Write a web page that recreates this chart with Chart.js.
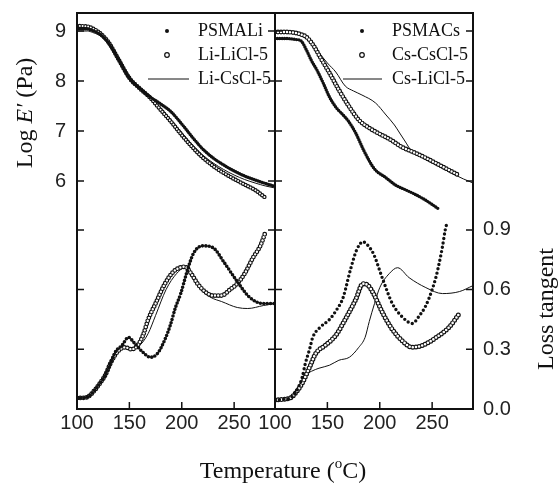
<!DOCTYPE html>
<html>
<head>
<meta charset="utf-8">
<script src="https://cdn.jsdelivr.net/npm/chart.js@4.4.1/dist/chart.umd.min.js"></script>
<style>
  body { margin: 0; background: #fff; }
  #wrap { position: relative; width: 558px; height: 487px; }
  #wrap canvas { position: absolute; left: 0; top: 0; }
</style>
</head>
<body>
<div id="wrap">
  <canvas id="chartLi" width="558" height="487"></canvas>
  <canvas id="chartCs" width="558" height="487"></canvas>
</div>
<script>
// axis ticks
const tempTicks = [100, 150, 200, 250];
const logTicks = [6, 7, 8, 9];
const tanTicks = [0.0, 0.3, 0.6, 0.9];

// ---- Li panel: log E' ----
const tPsmaliE = [100, 110, 115, 120, 125, 130, 140, 150, 160, 170, 180, 190, 200, 210, 220, 230, 240, 250, 260, 270, 280, 288];
const psmaliE  = [9.05, 9.04, 9.01, 8.96, 8.88, 8.76, 8.42, 8.06, 7.85, 7.68, 7.54, 7.38, 7.14, 6.88, 6.64, 6.46, 6.32, 6.2, 6.1, 6.02, 5.95, 5.9];
const tLiLiE   = [100, 110, 115, 120, 125, 130, 140, 150, 160, 170, 180, 190, 200, 210, 220, 230, 240, 250, 260, 270, 279];
const liLiE    = [9.1, 9.09, 9.05, 8.99, 8.9, 8.78, 8.42, 8.06, 7.85, 7.66, 7.42, 7.18, 6.92, 6.68, 6.47, 6.3, 6.16, 6.04, 5.93, 5.82, 5.68];
const tLiCsE   = [100, 110, 115, 120, 125, 130, 140, 150, 160, 170, 180, 190, 200, 210, 220, 230, 240, 250, 260, 270, 280, 289];
const liCsE    = [9.0, 9.0, 8.97, 8.93, 8.86, 8.74, 8.4, 8.05, 7.84, 7.66, 7.46, 7.22, 6.97, 6.73, 6.52, 6.36, 6.23, 6.12, 6.03, 5.96, 5.9, 5.86];

// ---- Li panel: loss tangent ----
const tPsmaliT = [100, 105, 110, 117, 122, 127, 132, 137, 143, 149, 155, 162, 170, 177, 184, 189, 194, 199, 205, 211, 220, 230, 240, 253, 265, 278, 289];
const psmaliT  = [0.055, 0.056, 0.06, 0.095, 0.13, 0.17, 0.23, 0.29, 0.32, 0.36, 0.33, 0.29, 0.26, 0.28, 0.35, 0.42, 0.51, 0.58, 0.69, 0.78, 0.82, 0.81, 0.74, 0.64, 0.56, 0.53, 0.53];
const tLiLiT   = [100, 105, 110, 117, 122, 127, 132, 139, 146, 152, 158, 163, 168, 175, 184, 192, 198, 203, 209, 215, 222, 230, 238, 246, 253, 260, 268, 275, 280];
const liLiT    = [0.055, 0.056, 0.06, 0.095, 0.13, 0.17, 0.23, 0.29, 0.31, 0.3, 0.32, 0.37, 0.45, 0.53, 0.63, 0.69, 0.71, 0.715, 0.68, 0.63, 0.59, 0.57, 0.57, 0.6, 0.63, 0.68, 0.76, 0.82, 0.89];
const tLiCsT   = [100, 110, 117, 122, 127, 132, 139, 146, 153, 160, 168, 175, 185, 195, 203, 210, 218, 228, 238, 253, 263, 278, 289];
const liCsT    = [0.055, 0.06, 0.095, 0.13, 0.17, 0.23, 0.29, 0.31, 0.3, 0.32, 0.38, 0.47, 0.6, 0.68, 0.71, 0.66, 0.6, 0.56, 0.54, 0.51, 0.505, 0.52, 0.53];

// ---- Cs panel: log E' ----
const tPsmacsE = [100, 110, 120, 125, 130, 135, 140, 146, 152, 158, 165, 170, 177, 185, 195, 205, 215, 225, 235, 245, 257];
const psmacsE  = [8.85, 8.85, 8.83, 8.8, 8.62, 8.4, 8.22, 7.96, 7.68, 7.48, 7.32, 7.2, 6.96, 6.6, 6.24, 6.08, 5.92, 5.82, 5.72, 5.6, 5.43];
const tCsCsE   = [100, 110, 120, 125, 130, 137, 143, 152, 161, 171, 180, 190, 200, 210, 221, 234, 245, 255, 265, 275];
const csCsE    = [8.98, 8.98, 8.96, 8.93, 8.88, 8.7, 8.48, 8.16, 7.82, 7.48, 7.22, 7.06, 6.94, 6.83, 6.68, 6.56, 6.45, 6.34, 6.23, 6.12];
const tCsLiE   = [100, 110, 120, 125, 130, 140, 150, 158, 167, 175, 183, 196, 206, 214, 219, 224, 231, 240, 250, 260, 270, 280, 289];
const csLiE    = [9.0, 9.0, 8.98, 8.95, 8.9, 8.62, 8.36, 8.18, 7.9, 7.8, 7.72, 7.56, 7.32, 7.12, 6.96, 6.8, 6.58, 6.47, 6.36, 6.25, 6.14, 6.04, 5.96];

// ---- Cs panel: loss tangent ----
const tPsmacsT = [100, 110, 116, 121, 126, 129, 133, 136, 143, 152, 159, 165, 172, 178, 184, 189, 194, 203, 212, 222, 231, 238, 244, 250, 254, 257, 260, 262.5, 264.5];
const psmacsT  = [0.045, 0.05, 0.06, 0.095, 0.16, 0.23, 0.3, 0.36, 0.41, 0.45, 0.5, 0.56, 0.7, 0.8, 0.84, 0.82, 0.78, 0.65, 0.53, 0.46, 0.43, 0.47, 0.52, 0.6, 0.67, 0.74, 0.82, 0.9, 0.94];
const tCsCsT   = [100, 110, 116, 121, 126, 133, 139, 148, 158, 167, 177, 184, 189, 194, 203, 212, 222, 231, 241, 254, 266, 276];
const csCsT    = [0.045, 0.05, 0.06, 0.09, 0.13, 0.21, 0.28, 0.32, 0.37, 0.45, 0.55, 0.63, 0.62, 0.58, 0.48, 0.4, 0.34, 0.31, 0.32, 0.36, 0.41, 0.48];
const tCsLiT   = [100, 110, 116, 121, 125, 129, 135, 142, 152, 161, 171, 180, 186, 190, 195, 200, 209, 217, 228, 244, 260, 276, 289];
const csLiT    = [0.045, 0.05, 0.06, 0.09, 0.13, 0.17, 0.19, 0.205, 0.22, 0.245, 0.26, 0.31, 0.36, 0.44, 0.53, 0.61, 0.68, 0.71, 0.66, 0.61, 0.58, 0.59, 0.62];

const INK = '#111';
const SANS = 'Liberation Sans, Arial, sans-serif';
const SERIF = 'Liberation Serif, Times New Roman, serif';

const pts = (t, v) => t.map((x, i) => ({ x: x, y: v[i] }));

// filled dots: zero-length round dashes along the curve
function dots(t, v, axis, w, gap) {
  return { data: pts(t, v), yAxisID: axis, borderColor: INK, borderWidth: w,
    borderDash: [0, gap], borderCapStyle: 'round', pointRadius: 0,
    cubicInterpolationMode: 'monotone', fill: false, order: 1 };
}
// open circles: black dots, then white dots drawn on top
function rings(t, v, axis, w, gap) {
  const outer = dots(t, v, axis, w, gap);
  outer.order = 3;
  const inner = dots(t, v, axis, w - 2.4, gap);
  inner.borderColor = '#fff';
  inner.order = 2;
  return [outer, inner];
}
function thin(t, v, axis) {
  return { data: pts(t, v), yAxisID: axis, borderColor: INK, borderWidth: 1,
    pointRadius: 0, cubicInterpolationMode: 'monotone', fill: false, order: 4 };
}

function setTicks(vals) {
  return s => { s.ticks = vals.map(v => ({ value: v })); };
}
function fixSize(prop, size) {
  return s => {
    s[prop] = size;
    s.paddingTop = 0; s.paddingBottom = 0; s.paddingLeft = 0; s.paddingRight = 0;
  };
}

function makeScales(showLog, showTan) {
  return {
    x: {
      type: 'linear', min: 100, max: 289,
      afterBuildTicks: setTicks(tempTicks),
      afterFit: fixSize('height', 78),
      grid: { display: false, drawTicks: false }, border: { display: false },
      ticks: { font: { family: SANS, size: 20 }, color: '#222', padding: 2, maxRotation: 0, autoSkip: false }
    },
    y: {
      type: 'linear', position: 'left', min: 1.44, max: 9.36, display: showLog,
      afterBuildTicks: setTicks(logTicks),
      afterFit: fixSize('width', showLog ? 77 : 0),
      grid: { display: false, drawTicks: false }, border: { display: false },
      ticks: { font: { family: SANS, size: 20 }, color: '#222', padding: 11, autoSkip: false }
    },
    y2: {
      type: 'linear', position: 'right', min: 0, max: 1.99, display: showTan,
      afterBuildTicks: setTicks(tanTicks),
      afterFit: fixSize('width', showTan ? 85 : 0),
      grid: { display: false, drawTicks: false }, border: { display: false },
      ticks: { font: { family: SANS, size: 20 }, color: '#222', padding: 10, autoSkip: false,
        callback: v => v.toFixed(1) }
    }
  };
}

// write a run of [text, font, dy] pieces starting at x
function runText(ctx, parts, x, y) {
  parts.forEach(p => {
    ctx.font = p[1];
    ctx.fillText(p[0], x, y + (p[2] || 0));
    x += ctx.measureText(p[0]).width;
  });
}
function runWidth(ctx, parts) {
  let w = 0;
  parts.forEach(p => { ctx.font = p[1]; w += ctx.measureText(p[0]).width; });
  return w;
}

// frame, inward ticks, legend and axis titles
function decor(legend, legendPos, titles) {
  return {
    id: 'decor',
    afterDraw(chart) {
      const ctx = chart.ctx, a = chart.chartArea;
      const sx = chart.scales.x, sy = chart.scales.y, st = chart.scales.y2;
      ctx.save();
      ctx.strokeStyle = INK;
      ctx.lineWidth = 1.5;
      const tl = 7;
      const ys = logTicks.map(v => sy.getPixelForValue(v))
        .concat(tanTicks.filter(v => v > 0).map(v => st.getPixelForValue(v)));
      ctx.beginPath();
      ys.forEach(py => {
        ctx.moveTo(a.left, py); ctx.lineTo(a.left + tl, py);
        ctx.moveTo(a.right, py); ctx.lineTo(a.right - tl, py);
      });
      tempTicks.slice(1).forEach(v => {
        const px = sx.getPixelForValue(v);
        ctx.moveTo(px, a.bottom); ctx.lineTo(px, a.bottom - tl);
      });
      ctx.stroke();
      ctx.lineWidth = 2;
      ctx.strokeRect(a.left, a.top, a.right - a.left, a.bottom - a.top);

      // legend
      ctx.fillStyle = INK;
      ctx.textBaseline = 'middle';
      ctx.textAlign = 'left';
      legend.forEach((item, i) => {
        const y = legendPos.rows[i];
        if (item[1] === 'dot') {
          ctx.beginPath(); ctx.arc(legendPos.mark, y, 2, 0, Math.PI * 2); ctx.fill();
        } else if (item[1] === 'ring') {
          ctx.lineWidth = 1.2;
          ctx.beginPath(); ctx.arc(legendPos.mark, y, 2.3, 0, Math.PI * 2); ctx.stroke();
        } else {
          ctx.lineWidth = 1;
          ctx.beginPath(); ctx.moveTo(legendPos.line[0], y); ctx.lineTo(legendPos.line[1], y); ctx.stroke();
        }
        ctx.font = '18px ' + SERIF;
        ctx.fillText(item[0], legendPos.text, y);
      });

      titles.forEach(tt => {
        ctx.save();
        ctx.translate(tt.x, tt.y);
        ctx.rotate(tt.rot || 0);
        const w = runWidth(ctx, tt.parts);
        runText(ctx, tt.parts, -w / 2, 0);
        ctx.restore();
      });
      ctx.restore();
    }
  };
}

const F = '24px ' + SERIF;
const FI = 'italic 24px ' + SERIF;

new Chart(document.getElementById('chartLi'), {
  type: 'line',
  data: {
    datasets: [
      dots(tPsmaliE, psmaliE, 'y', 3.4, 2.2),
      thin(tLiCsE, liCsE, 'y'),
      ...rings(tLiLiE, liLiE, 'y', 4.4, 2.8),
      dots(tPsmaliT, psmaliT, 'y2', 3.6, 3.4),
      thin(tLiCsT, liCsT, 'y2'),
      ...rings(tLiLiT, liLiT, 'y2', 4.8, 3.2)
    ]
  },
  options: {
    responsive: false, animation: false, events: [],
    layout: { padding: { left: 0, right: 283, top: 13, bottom: 0 } },
    plugins: { legend: { display: false }, tooltip: { enabled: false } },
    scales: makeScales(true, false)
  },
  plugins: [decor(
    [['PSMALi', 'dot'], ['Li-LiCl-5', 'ring'], ['Li-CsCl-5', 'line']],
    { mark: 167, line: [148, 189], text: 198, rows: [31, 55, 79] },
    [
      { x: 26, y: 113, rot: -Math.PI / 2, parts: [['Log ', F], ['E\u2032', FI], [' (Pa)', F]] },
      { x: 283, y: 472, parts: [['Temperature (', F], ['o', '15px ' + SERIF, -8], ['C)', F]] }
    ]
  )]
});

new Chart(document.getElementById('chartCs'), {
  type: 'line',
  data: {
    datasets: [
      dots(tPsmacsE, psmacsE, 'y', 3.4, 2.4),
      thin(tCsLiE, csLiE, 'y'),
      ...rings(tCsCsE, csCsE, 'y', 4.8, 3.0),
      dots(tPsmacsT, psmacsT, 'y2', 3.4, 4.4),
      thin(tCsLiT, csLiT, 'y2'),
      ...rings(tCsCsT, csCsT, 'y2', 5.0, 3.2)
    ]
  },
  options: {
    responsive: false, animation: false, events: [],
    layout: { padding: { left: 275, right: 0, top: 13, bottom: 0 } },
    plugins: { legend: { display: false }, tooltip: { enabled: false } },
    scales: makeScales(false, true)
  },
  plugins: [decor(
    [['PSMACs', 'dot'], ['Cs-CsCl-5', 'ring'], ['Cs-LiCl-5', 'line']],
    { mark: 362, line: [343, 382], text: 392, rows: [31, 55, 79] },
    [
      { x: 547, y: 309, rot: -Math.PI / 2, parts: [['Loss tangent', F]] }
    ]
  )]
});
</script>
</body>
</html>
